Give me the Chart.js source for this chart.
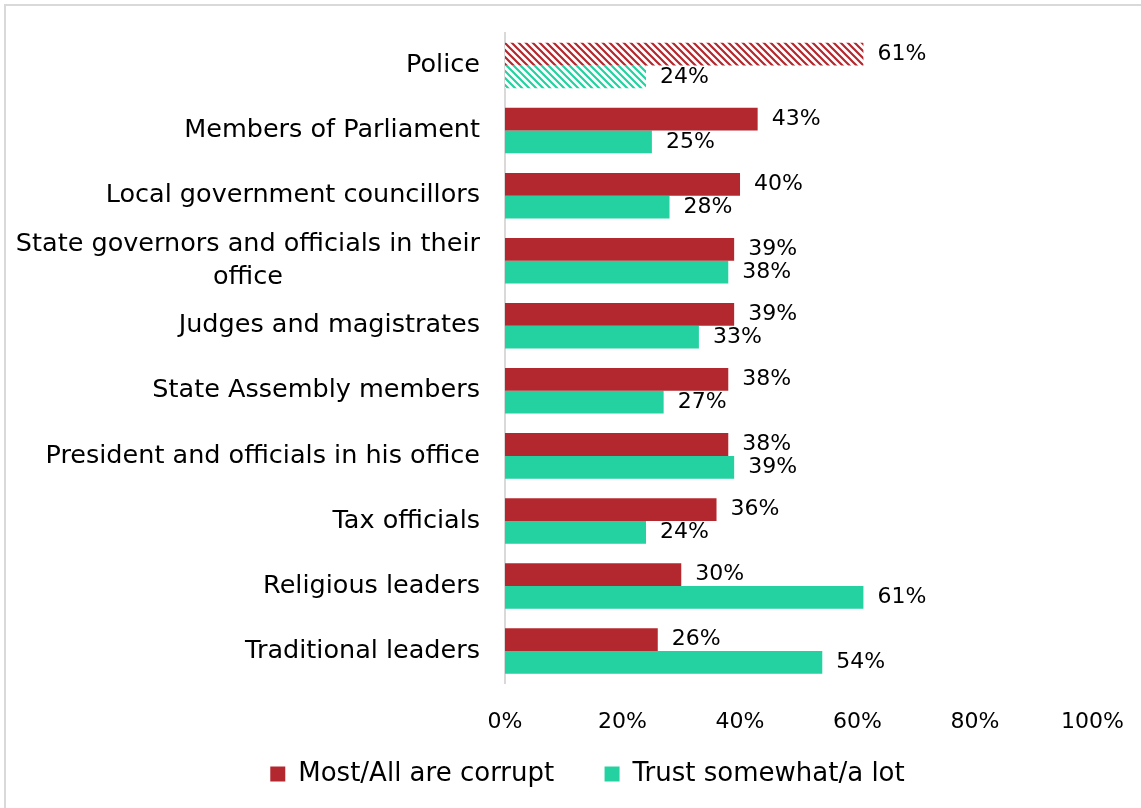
<!DOCTYPE html>
<html>
<head>
<meta charset="utf-8">
<script src="https://cdn.jsdelivr.net/npm/chart.js@4.4.0/dist/chart.umd.min.js"></script>
<style>
    body { margin: 0; background: #fff; }
    #wrap { position: absolute; left: 4px; top: 4px; width: 1160px; height: 830px;
            border-top: 2px solid #d9d9d9; border-left: 2px solid #d9d9d9; }
    #box { position: absolute; left: 0; top: 0; width: 1141px; height: 808px; }
</style>
</head>
<body>
<div id="wrap"></div>
<div id="box"><canvas id="chart_canvas" width="1141" height="808"></canvas></div>
<script>
// chart values
const categories = [
    ['Police'],
    ['Members of Parliament'],
    ['Local government councillors'],
    ['State governors and officials in their', 'office'],
    ['Judges and magistrates'],
    ['State Assembly members'],
    ['President and officials in his office'],
    ['Tax officials'],
    ['Religious leaders'],
    ['Traditional leaders']
];
const corrupt_values = [61, 43, 40, 39, 39, 38, 38, 36, 30, 26];
const trust_values = [24, 25, 28, 38, 33, 27, 39, 24, 61, 54];
const series_names = ['Most/All are corrupt', 'Trust somewhat/a lot'];
const x_ticks = [0, 20, 40, 60, 80, 100];

const RED = '#b3282e';
const TEAL = '#24d1a0';
const FONT = '"DejaVu Sans", sans-serif';

// striped fill for the police row
function make_stripes(color) {
    const c = document.createElement('canvas');
    c.width = 7;
    c.height = 7;
    const ctx = c.getContext('2d');
    ctx.fillStyle = '#fff';
    ctx.fillRect(0, 0, 7, 7);
    ctx.strokeStyle = color;
    ctx.lineWidth = 2.2;
    ctx.beginPath();
    ctx.moveTo(-3, -3); ctx.lineTo(10, 10);
    ctx.moveTo(-10, -3); ctx.lineTo(3, 10);
    ctx.moveTo(4, -3); ctx.lineTo(17, 10);
    ctx.stroke();
    const tmp = document.createElement('canvas').getContext('2d');
    return tmp.createPattern(c, 'repeat');
}

function fills(color) {
    const out = [];
    for (let i = 0; i < categories.length; i++) {
        out.push(i == 0 ? make_stripes(color) : color);
    }
    return out;
}

// category labels: block right aligned, lines centered in the block
const cat_labels = {
    id: 'cat_labels',
    afterDraw(chart) {
        const ctx = chart.ctx;
        const y = chart.scales.y;
        ctx.save();
        ctx.font = '25.5px ' + FONT;
        ctx.fillStyle = '#000';
        ctx.textAlign = 'center';
        ctx.textBaseline = 'middle';
        const right = chart.chartArea.left - 25;
        const lh = 33;
        categories.forEach((lines, i) => {
            let w = 0;
            lines.forEach(l => { w = Math.max(w, ctx.measureText(l).width); });
            const cy = y.getPixelForValue(i);
            const top = cy - (lines.length - 1) * lh / 2;
            lines.forEach((l, j) => ctx.fillText(l, right - w / 2, top + j * lh));
        });
        ctx.restore();
    }
};

// value labels at the end of each bar
const value_labels = {
    id: 'value_labels',
    afterDatasetsDraw(chart) {
        const ctx = chart.ctx;
        ctx.save();
        ctx.font = '22px ' + FONT;
        ctx.fillStyle = '#000';
        ctx.textAlign = 'left';
        ctx.textBaseline = 'middle';
        chart.data.datasets.forEach((ds, di) => {
            chart.getDatasetMeta(di).data.forEach((bar, i) => {
                ctx.fillText(ds.data[i] + '%', bar.x + 14, bar.y);
            });
        });
        ctx.restore();
    }
};

new Chart(document.getElementById('chart_canvas'), {
    type: 'bar',
    data: {
        labels: categories,
        datasets: [
            {label: series_names[0], data: corrupt_values, backgroundColor: fills(RED)},
            {label: series_names[1], data: trust_values, backgroundColor: fills(TEAL)}
        ]
    },
    options: {
        indexAxis: 'y',
        responsive: false,
        animation: false,
        categoryPercentage: 0.7,
        barPercentage: 1.0,
        layout: {padding: {left: 48, right: 14, top: 33, bottom: 11}},
        plugins: {
            legend: {
                position: 'bottom',
                labels: {
                    color: '#000',
                    font: {family: FONT, size: 26},
                    boxWidth: 15,
                    boxHeight: 15,
                    padding: 9,
                    generateLabels(chart) {
                        return chart.data.datasets.map((ds, i) => ({
                            // trailing spaces widen the gap between the two items
                            text: i == 0 ? ds.label + '     ' : ds.label,
                            fillStyle: i == 0 ? RED : TEAL,
                            strokeStyle: i == 0 ? RED : TEAL,
                            lineWidth: 0,
                            datasetIndex: i
                        }));
                    }
                }
            },
            tooltip: {enabled: false}
        },
        scales: {
            x: {
                min: 0,
                max: 100,
                afterBuildTicks(axis) {
                    axis.ticks = x_ticks.map(v => ({value: v}));
                },
                grid: {display: false},
                border: {display: false},
                ticks: {
                    color: '#000',
                    padding: 17,
                    font: {family: FONT, size: 22},
                    callback: v => v + '%'
                }
            },
            y: {
                grid: {display: false},
                border: {display: true, color: '#d9d9d9', width: 2},
                ticks: {display: false},
                // room for the category labels drawn by cat_labels
                afterFit(axis) { axis.width = 457; }
            }
        }
    },
    plugins: [cat_labels, value_labels]
});
</script>
</body>
</html>
